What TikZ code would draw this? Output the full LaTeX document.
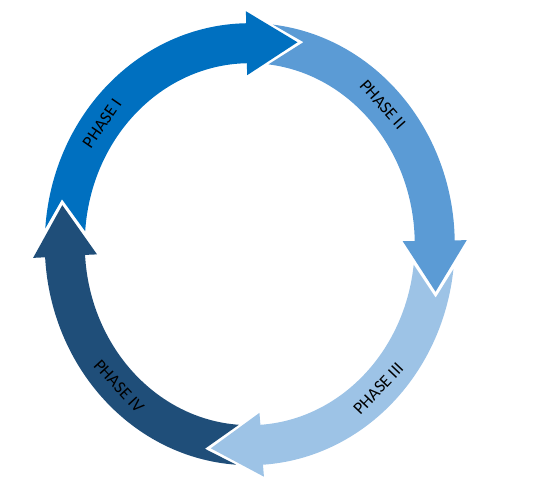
\documentclass[tikz,border=0pt]{standalone}
\usepackage{fontspec}
\setmainfont{Carlito}
\usetikzlibrary{calc}
\definecolor{phaseonecol}{HTML}{0070C0}
\definecolor{phasetwocol}{HTML}{5B9BD5}
\definecolor{phasethreecol}{HTML}{9DC3E6}
\definecolor{phasefourcol}{HTML}{1F4E79}

\begin{document}
\begin{tikzpicture}[
    x=1pt, y=1pt,
    phaselabel/.style={font=\fontsize{17.5}{17.5}\selectfont, text=black, inner sep=0pt}
]
\useasboundingbox (-249.75,-237.8) rectangle (286.25,244.2);
% arrow heads: centre, tip, wings and the notch of the next tail
\foreach \j/\b in {1/91, 2/1, 3/-86.3, 4/183.4} {
  \coordinate (m\j) at ({185*cos(\b)},{201*sin(\b)});
  \coordinate (d\j) at ({185*cos(\b)+185*sin(\b)},{201*sin(\b)-201*cos(\b)});
  \coordinate (tip\j) at ($(m\j)!51pt!(d\j)$);
  \coordinate (wo\j) at ($(m\j)!32pt!90:(d\j)$);
  \coordinate (wi\j) at ($(m\j)!32pt!-90:(d\j)$);
  \coordinate (v\j) at ($(m\j)!57pt!(d\j)$);
}
% the four phase arrows
\foreach \tl/\hd/\p/\c/\col in {175.9/91/4/1/phaseonecol, 83.5/1/1/2/phasetwocol,
    -6.5/-86.3/2/3/phasethreecol, -93.8/-176.6/3/4/phasefourcol} {
  \fill[\col] ({165*cos(\tl)},{181*sin(\tl)}) -- (v\p) -- ({205*cos(\tl)},{221*sin(\tl)})
    arc[start angle=\tl, end angle=\hd, x radius=205, y radius=221]
    -- (wo\c) -- (tip\c) -- (wi\c) -- ({165*cos(\hd)},{181*sin(\hd)})
    arc[start angle=\hd, end angle=\tl, x radius=165, y radius=181] -- cycle;
}
\node[phaselabel, rotate=55.3] (labone) at ({185*cos(143)},{201*sin(143)}) {PHASE I};
\node[phaselabel, rotate=-48.4] (labtwo) at ({185*cos(44)},{201*sin(44)}) {PHASE II};
\node[phaselabel, rotate=46.4] (labthree) at ({185*cos(-46)},{201*sin(-46)}) {PHASE III};
\node[phaselabel, rotate=-47.4] (labfour) at ({185*cos(225)},{201*sin(225)}) {PHASE IV};
\end{tikzpicture}
\end{document}
